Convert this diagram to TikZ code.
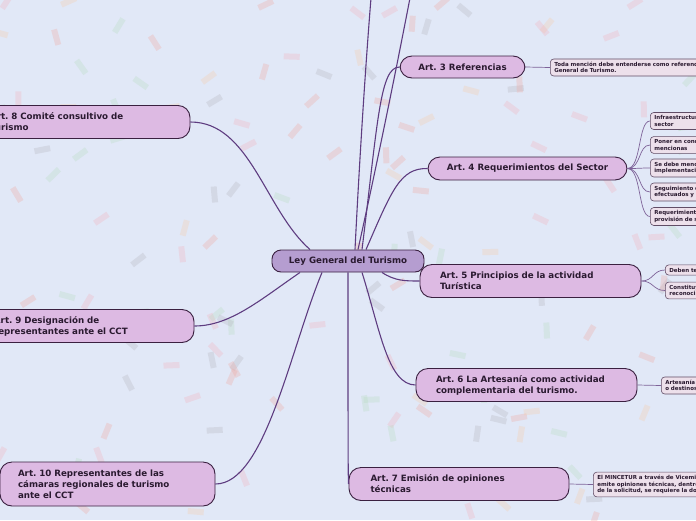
\documentclass[tikz,border=0pt]{standalone}
\usepackage{fontspec}
\setmainfont{DejaVu Sans}
\frenchspacing
\definecolor{bg}{HTML}{E1E8F7}
\definecolor{topicfill}{HTML}{DDBAE3}
\definecolor{centerfill}{HTML}{B59DD0}
\definecolor{subfill}{HTML}{EDE0EB}
\definecolor{edge}{HTML}{3A2040}
\definecolor{link}{HTML}{5E3C80}
\definecolor{txt}{HTML}{2A1A30}
\definecolor{conf0}{HTML}{F4B0BC}
\definecolor{conf1}{HTML}{F0A8A0}
\definecolor{conf2}{HTML}{B8DCC0}
\definecolor{conf3}{HTML}{B4B4BE}
\definecolor{conf4}{HTML}{F8CCA8}
\tikzset{
  centerbox/.style={draw=edge, line width=0.9pt, fill=centerfill, rounded corners=9pt,
    font=\fontsize{8.7}{10}\selectfont\bfseries, text=txt, minimum height=22pt, inner sep=0pt},
  topicbox/.style={draw=edge, line width=0.9pt, fill=topicfill, rounded corners=12pt,
    font=\fontsize{8.7}{11}\selectfont\bfseries, text=txt, inner sep=0pt},
  subbox/.style={draw=edge!80, line width=0.6pt, fill=subfill, rounded corners=3.5pt,
    font=\fontsize{5.5}{6.6}\selectfont\bfseries, text=txt, anchor=west, align=left,
    inner xsep=4pt, inner ysep=3pt, text width=200pt},
  mainlink/.style={draw=link, line width=1.1pt},
  sublink/.style={draw=link!80, line width=0.7pt}
}
\begin{document}
\begin{tikzpicture}[x=1pt,y=-1pt]
\useasboundingbox (0,0) rectangle (696,520);
\clip (0,0) rectangle (696,520);
\fill[bg] (0,0) rectangle (696,520);
% confetti
\pgfmathsetseed{11}
\foreach \i in {1,...,150}{
  \pgfmathsetmacro\cx{rnd*696}
  \pgfmathsetmacro\cy{rnd*520}
  \pgfmathsetmacro\ca{rnd*180}
  \pgfmathtruncatemacro\cc{int(rnd*4.99)}
  \fill[conf\cc, fill opacity=0.3, rotate around={\ca:(\cx,\cy)}] (\cx-8,\cy-3) rectangle (\cx+8,\cy+3);
}
% nodes
\node[centerbox, minimum width=152pt] (c) at (348,261) {Ley General del Turismo};
\node[topicbox, minimum width=125pt, minimum height=22pt] (a3) at (462.5,67) {Art. 3 Referencias};
\node[topicbox, minimum width=199pt, minimum height=23pt] (a4) at (527.5,168.5) {Art. 4 Requerimientos del Sector};
\node[topicbox, minimum width=221pt, minimum height=33pt, text width=181pt, align=left] (a5) at (530.5,281) {Art. 5 Principios de la actividad\\Turística};
\node[topicbox, minimum width=221pt, minimum height=33pt, text width=181pt, align=left] (a6) at (526.5,385) {Art. 6 La Artesanía como actividad\\complementaria del turismo.};
\node[topicbox, minimum width=220pt, minimum height=33pt, text width=177pt, align=left] (a7) at (459,484) {Art. 7 Emisión de opiniones\\técnicas};
\node[topicbox, minimum width=215pt, minimum height=33pt, text width=185pt, align=left] (a8) at (82.5,122) {Art. 8 Comité consultivo de\\Turismo};
\node[topicbox, minimum width=215pt, minimum height=33pt, text width=185pt, align=left] (a9) at (86.5,326) {Art. 9 Designación de\\representantes ante el CCT};
\node[topicbox, minimum width=215pt, minimum height=44pt, text width=179pt, align=left] (a10) at (107.5,484) {Art. 10 Representantes de las\\cámaras regionales de turismo\\ante el CCT};
% off-page ends
\coordinate (t1) at (371,-2);
\coordinate (t2) at (410,-2);
% sub nodes
\node[subbox] (s3) at (550,67.5) {Toda mención debe entenderse como referencia a la Ley\\General de Turismo.};
\node[subbox] (s41) at (650,121) {Infraestructura turística del\\sector};
\node[subbox] (s42) at (650,145) {Poner en conocimiento lo que\\mencionas};
\node[subbox] (s43) at (650,168) {Se debe mencionar la\\implementación};
\node[subbox] (s44) at (650,192) {Seguimiento de los trabajos\\efectuados y realizados};
\node[subbox] (s45) at (650,216.5) {Requerimientos para la\\provisión de servicios};
\node[subbox] (s51) at (665,270) {Deben tener en cuenta};
\node[subbox] (s52) at (665,290.5) {Constituyen el\\reconocimiento};
\node[subbox] (s6) at (661,385.5) {Artesanía como producto\\o destinos};
\node[subbox] (s7) at (593,484.5) {El MINCETUR a través de Viceministerio de Turismo\\emite opiniones técnicas, dentro de un plazo\\de la solicitud, se requiere la documentación};
% main links
\path[mainlink] ([xshift=7pt]c.north) .. controls (360,150) and (366,60) .. (t1);
\path[mainlink] ([xshift=10pt]c.north) .. controls (380,150) and (398,60) .. (t2);
\path[mainlink] ([xshift=14pt]c.north) .. controls (378,120) and (380,67) .. (a3.west);
\path[mainlink] ([xshift=18pt]c.north) .. controls (392,190) and (400,168) .. (a4.west);
\path[mainlink] ([xshift=34pt]c.south) .. controls (395,281) and (405,281) .. (a5.west);
\path[mainlink] ([xshift=14pt]c.south) .. controls (380,330) and (388,385) .. (a6.west);
\path[mainlink] (c.south) .. controls (348,400) and (348,484) .. (a7.west);
\path[mainlink] ([xshift=-38pt]c.north) .. controls (265,210) and (250,122) .. (a8.east);
\path[mainlink] ([xshift=-48pt]c.south) .. controls (260,300) and (230,326) .. (a9.east);
\path[mainlink] ([xshift=-26pt]c.south) .. controls (290,350) and (265,484) .. (a10.east);
% sub links
\path[sublink] (a3.east) -- (s3.west);
\foreach \s in {s41,s42,s43,s44,s45}{
  \path[sublink] (a4.east) .. controls +(14,0) and ([xshift=-12pt]\s.west) .. (\s.west);
}
\foreach \s in {s51,s52}{
  \path[sublink] (a5.east) .. controls +(12,0) and ([xshift=-12pt]\s.west) .. (\s.west);
}
\path[sublink] (a6.east) -- (s6.west);
\path[sublink] (a7.east) -- (s7.west);
\end{tikzpicture}
\end{document}
